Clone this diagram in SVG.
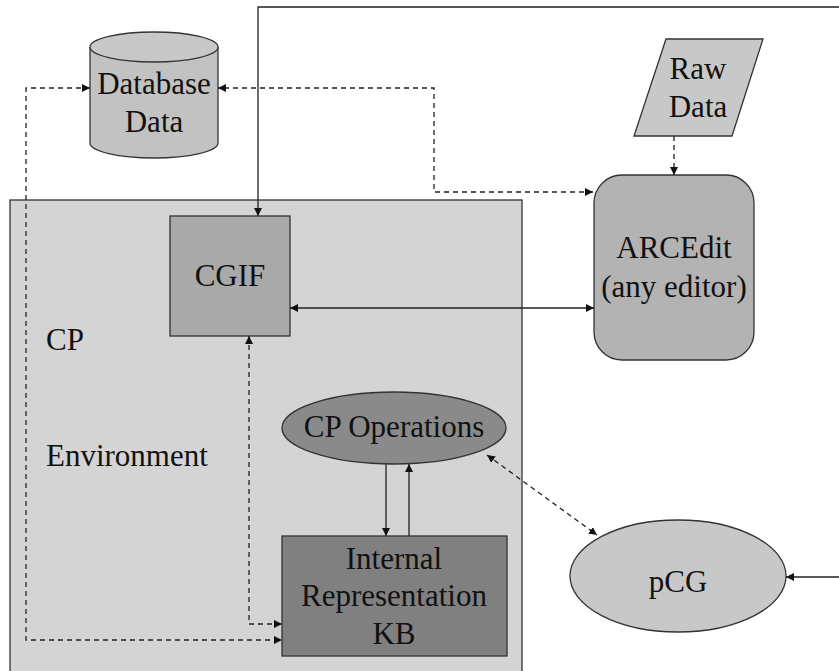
<svg xmlns="http://www.w3.org/2000/svg" width="839" height="671" viewBox="0 0 839 671">
  <style>
    .lbl { font-size: 31px; fill: #111; text-anchor: middle; }
    .shape { stroke: #333; stroke-width: 1.3; }
    .solid { fill: none; stroke: #222; stroke-width: 1.3; }
    .dash { fill: none; stroke: #222; stroke-width: 1.3; stroke-dasharray: 5 4; }
  </style>
  <defs>
    <marker id="arr" viewBox="0 0 10 10" refX="10" refY="5" markerWidth="8" markerHeight="8" markerUnits="userSpaceOnUse" orient="auto-start-reverse">
      <path d="M0,0 L10,5 L0,10 z" fill="#111"/>
    </marker>
  </defs>
  <rect width="839" height="671" fill="#fff"/>

  <g font-family="Liberation Serif, DejaVu Serif, serif">
  <g id="cp-environment">
    <rect class="shape" x="10" y="200" width="512" height="480" fill="#d4d4d4" stroke="#555"/>
    <text class="lbl" x="46" y="350" text-anchor="start" style="text-anchor:start">CP</text>
    <text class="lbl" x="46" y="466" style="text-anchor:start">Environment</text>
  </g>

  <g id="database">
    <path class="shape" d="M90,47 V143 A64,15 0 0 0 218,143 V47" fill="#c2c2c2"/>
    <ellipse class="shape" cx="154" cy="47" rx="64" ry="15" fill="#c8c8c8"/>
    <text class="lbl" x="154" y="94">Database</text>
    <text class="lbl" x="154" y="132">Data</text>
  </g>

  <g id="raw-data">
    <polygon class="shape" points="666,39 763,39 732,136 634,136" fill="#c8c8c8"/>
    <text class="lbl" x="698" y="79">Raw</text>
    <text class="lbl" x="698" y="117">Data</text>
  </g>

  <g id="arcedit">
    <rect class="shape" x="594" y="175" width="160" height="185" rx="28" ry="28" fill="#b3b3b3"/>
    <text class="lbl" x="674" y="258">ARCEdit</text>
    <text class="lbl" x="674" y="297">(any editor)</text>
  </g>

  <g id="cgif">
    <rect class="shape" x="170" y="216" width="120" height="120" fill="#a9a9a9"/>
    <text class="lbl" x="230" y="286">CGIF</text>
  </g>

  <g id="cp-operations">
    <ellipse class="shape" cx="394" cy="428" rx="112" ry="36" fill="#8a8a8a"/>
    <text class="lbl" x="394" y="437">CP Operations</text>
  </g>

  <g id="internal-representation">
    <rect class="shape" x="282" y="536" width="225" height="120" fill="#808080"/>
    <text class="lbl" x="394" y="569">Internal</text>
    <text class="lbl" x="394" y="606">Representation</text>
    <text class="lbl" x="394" y="644">KB</text>
  </g>

  <g id="pcg">
    <ellipse class="shape" cx="678" cy="576" rx="108" ry="56" fill="#c8c8c8"/>
    <text class="lbl" x="678" y="592">pCG</text>
  </g>
  </g>

  <g id="connectors">
    <!-- external feed into CGIF over the top -->
    <path class="solid" d="M839,7 H258 V216" marker-end="url(#arr)"/>
    <!-- external feed into pCG -->
    <path class="solid" d="M839,577 H786" marker-end="url(#arr)"/>
    <!-- CGIF <-> ARCEdit -->
    <path class="solid" d="M290,308 H594" marker-start="url(#arr)" marker-end="url(#arr)"/>
    <!-- CP Operations <-> Internal Representation -->
    <path class="solid" d="M386,464 V536" marker-end="url(#arr)"/>
    <path class="solid" d="M409,536 V464" marker-end="url(#arr)"/>
    <!-- Raw Data -> ARCEdit -->
    <path class="dash" d="M674,136 V175" marker-end="url(#arr)"/>
    <!-- Database <-> ARCEdit -->
    <path class="dash" d="M593,192 H434 V88 H218" marker-start="url(#arr)" marker-end="url(#arr)"/>
    <!-- Database <-> Internal Representation -->
    <path class="dash" d="M90,88 H26 V640 H282" marker-start="url(#arr)" marker-end="url(#arr)"/>
    <!-- CGIF <-> Internal Representation -->
    <path class="dash" d="M249,336 V624 H282" marker-start="url(#arr)" marker-end="url(#arr)"/>
    <!-- CP Operations <-> pCG -->
    <path class="dash" d="M487,455 L597,535" marker-start="url(#arr)" marker-end="url(#arr)"/>
  </g>
</svg>
